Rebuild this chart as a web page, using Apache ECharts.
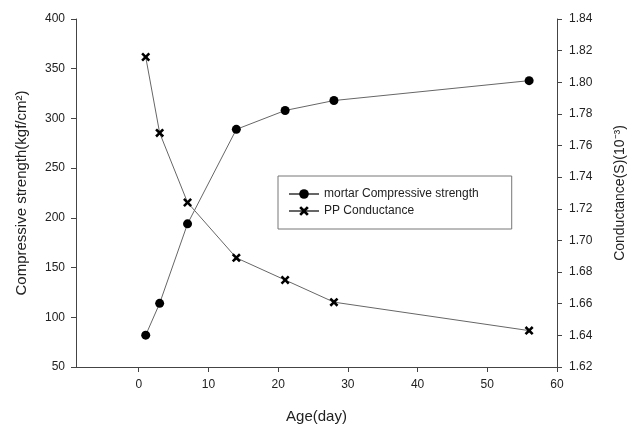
<!DOCTYPE html>
<html>
<head>
<meta charset="utf-8">
<script src="https://cdn.jsdelivr.net/npm/echarts@6/dist/echarts.min.js"></script>
<style>
  html, body { margin: 0; padding: 0; background: #fff; }
  #main { width: 629px; height: 428px; }
</style>
</head>
<body>
<div id="main"></div>
<script>
// values
var ageDays = [1, 3, 7, 14, 21, 28, 56];
var compressive = [82, 114, 194, 289, 308, 318, 338];
var conductance = [1.816, 1.768, 1.724, 1.689, 1.675, 1.661, 1.643];
var xTicks = [0, 10, 20, 30, 40, 50, 60];

var crossPath = 'path://M0,2 L2,0 L5,3 L8,0 L10,2 L7,5 L10,8 L8,10 L5,7 L2,10 L0,8 L3,5 Z';
var fontFam = 'Liberation Sans, Arial, sans-serif';
var axisCol = '#444';

function pairs(xs, ys) {
    return xs.map(function (x, i) { return [x, ys[i]]; });
}

var chart = echarts.init(document.getElementById('main'), null, { renderer: 'canvas' });

chart.setOption({
    animation: false,
    textStyle: { fontFamily: fontFam },
    grid: { left: 76, right: 72, top: 19, bottom: 61, outerBoundsMode: 'none' },
    legend: {
        orient: 'vertical',
        left: 278,
        top: 176,
        padding: [12, 33, 12, 10],
        itemGap: 5,
        itemWidth: 30,
        itemHeight: 12,
        borderColor: '#777',
        borderWidth: 1,
        textStyle: { fontSize: 12, color: '#222', fontFamily: fontFam },
        data: ['mortar Compressive strength', 'PP Conductance']
    },
    xAxis: {
        type: 'value',
        min: -9,
        max: 60,
        name: 'Age(day)',
        nameLocation: 'middle',
        nameGap: 42,
        nameTextStyle: { fontSize: 15, color: '#222' },
        axisLine: { onZero: false, lineStyle: { color: axisCol } },
        axisTick: { show: true, length: 5, lineStyle: { color: axisCol }, customValues: xTicks },
        axisLabel: { fontSize: 12, color: '#222', margin: 12, customValues: xTicks },
        splitLine: { show: false }
    },
    yAxis: [{
        type: 'value',
        min: 50,
        max: 400,
        interval: 50,
        position: 'left',
        name: 'Compressive strength(kgf/cm\u00b2)',
        nameLocation: 'middle',
        nameGap: 47,
        nameTextStyle: { fontSize: 15, color: '#222' },
        axisLine: { show: true, onZero: false, lineStyle: { color: axisCol } },
        axisTick: { show: true, length: 5, lineStyle: { color: axisCol } },
        axisLabel: { fontSize: 12, color: '#222', margin: 11 },
        splitLine: { show: false }
    }, {
        type: 'value',
        min: 1.62,
        max: 1.84,
        interval: 0.02,
        position: 'right',
        name: 'Conductance(S)(10\u207b\u00b3)',
        nameLocation: 'middle',
        nameGap: 56,
        nameRotate: 90,
        nameTextStyle: { fontSize: 14, color: '#222' },
        axisLine: { show: true, onZero: false, lineStyle: { color: axisCol } },
        axisTick: { show: true, length: 5, lineStyle: { color: axisCol } },
        axisLabel: {
            fontSize: 12, color: '#222', margin: 12,
            formatter: function (v) { return v.toFixed(2); }
        },
        splitLine: { show: false }
    }],
    series: [{
        name: 'mortar Compressive strength',
        type: 'line',
        yAxisIndex: 0,
        data: pairs(ageDays, compressive),
        symbol: 'circle',
        symbolSize: 9,
        lineStyle: { color: '#666', width: 1 },
        itemStyle: { color: '#000' }
    }, {
        name: 'PP Conductance',
        type: 'line',
        yAxisIndex: 1,
        data: pairs(ageDays, conductance),
        symbol: crossPath,
        symbolSize: 9,
        lineStyle: { color: '#666', width: 1 },
        itemStyle: { color: '#000' }
    }]
});
</script>
</body>
</html>
